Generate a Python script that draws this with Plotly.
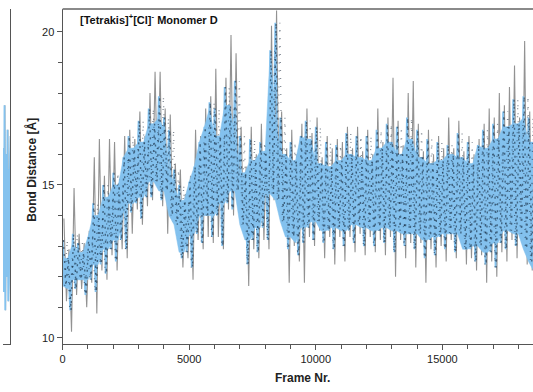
import plotly.graph_objects as go

# Frame bins (every 200 frames) and values (Bond Distance, Å)
frames = list(range(0, 18601, 200))

blue_hi = [13.2, 12.6, 13.4, 13.1, 12.8, 13.3, 14.4, 14.0, 15.0, 14.6,
           15.4, 15.0, 15.9, 16.6, 16.2, 17.1, 16.4, 17.5, 17.0, 17.9,
           17.2, 16.8, 15.5, 15.0, 14.5, 15.1, 15.6, 16.4, 16.9, 17.7,
           17.5, 16.6, 18.2, 17.6, 18.4, 16.6, 15.4, 16.5, 15.8, 16.4,
           16.1, 19.4, 20.3, 17.2, 16.0, 16.4, 15.8, 16.6, 17.1, 16.5,
           16.9, 15.7, 16.4, 15.6, 16.3, 15.8, 16.7, 16.0, 16.6, 15.9,
           16.6, 15.8, 16.8, 16.2, 17.0, 16.4, 16.9, 16.0, 17.2, 16.5,
           16.8, 15.9, 16.5, 15.7, 16.4, 15.8, 16.3, 16.0, 16.7, 15.9,
           16.4, 15.7, 16.3, 16.8, 16.2, 17.0, 16.5, 17.4, 16.9, 17.8,
           17.0, 17.9, 17.2, 16.4]

blue_lo = [11.7, 10.9, 11.6, 11.9, 11.4, 11.9, 11.5, 12.4, 12.1, 12.9,
           12.5, 13.2, 12.9, 14.1, 14.4, 13.9, 14.6, 14.6, 15.1, 14.5,
           14.8, 14.0, 13.7, 12.6, 12.8, 12.3, 13.4, 13.1, 14.0, 13.3,
           14.0, 13.0, 14.4, 14.2, 14.8, 13.7, 12.4, 13.2, 12.8, 13.6,
           13.2, 14.7, 14.5, 13.8, 12.9, 13.3, 12.7, 13.1, 13.6, 13.2,
           13.8, 13.1, 13.5, 12.9, 13.6, 13.0, 13.5, 13.1, 13.7, 13.0,
           13.6, 13.0, 13.5, 13.1, 13.6, 12.8, 13.5, 13.0, 13.4, 12.9,
           13.4, 12.6, 13.2, 12.7, 13.3, 12.9, 13.4, 12.8, 13.4, 12.9,
           12.9, 12.5, 13.0, 12.4, 12.8, 12.3, 13.1, 12.9, 13.5, 13.0,
           13.4, 12.9, 12.5, 12.2]

gray_hi = [13.9, 12.9, 14.9, 13.4, 13.1, 13.5, 15.9, 16.5, 15.3, 16.5,
           16.4, 15.2, 16.6, 16.8, 16.5, 17.4, 16.6, 18.0, 18.7, 18.7,
           17.5, 17.3, 15.7, 15.5, 14.7, 15.3, 16.8, 16.6, 17.5, 17.9,
           18.8, 16.8, 18.5, 19.9, 19.3, 16.9, 15.6, 16.9, 16.0, 17.0,
           16.3, 20.2, 20.7, 17.4, 16.2, 16.8, 16.0, 17.0, 17.5, 16.7,
           17.2, 15.9, 16.6, 16.2, 16.5, 16.4, 16.9, 16.2, 16.9, 16.1,
           16.8, 16.0, 17.5, 16.4, 17.2, 18.5, 17.1, 16.3, 18.0, 18.4,
           17.0, 16.1, 16.8, 16.0, 16.6, 16.2, 17.2, 16.2, 17.1, 16.1,
           16.6, 16.0, 16.5, 17.0, 17.5, 17.2, 18.0, 17.6, 18.2, 18.9,
           17.2, 19.7, 17.4, 16.6]

gray_lo = [11.2, 10.2, 11.4, 11.6, 11.0, 11.8, 10.8, 12.2, 11.9, 12.7,
           12.2, 12.9, 12.6, 13.4, 14.2, 13.7, 14.3, 14.5, 14.9, 14.3,
           13.4, 13.8, 13.5, 12.3, 12.6, 11.9, 13.2, 12.9, 13.3, 13.1,
           13.3, 12.9, 14.2, 14.0, 14.5, 13.5, 11.7, 12.9, 12.6, 13.2,
           12.9, 14.5, 14.2, 13.5, 11.8, 13.0, 12.5, 11.8, 13.3, 13.0,
           13.5, 12.6, 13.3, 12.4, 13.3, 12.5, 13.3, 12.8, 13.4, 12.7,
           13.3, 12.8, 13.2, 12.7, 13.3, 12.0, 13.2, 12.6, 13.1, 12.3,
           13.1, 11.8, 12.9, 12.3, 13.0, 12.5, 13.2, 12.6, 13.1, 12.4,
           12.6, 12.2, 12.7, 11.8, 12.5, 12.0, 12.8, 12.5, 13.2, 12.6,
           13.1, 12.4, 12.2, 11.8]

# Neighbouring (cropped) panel on the far left
left_pos = [0.0, 0.2, 0.4, 0.6, 0.8, 1.0]
left_hi = [16.2, 17.6, 16.0, 16.8, 15.5, 16.6]
left_lo = [11.5, 10.9, 12.0, 11.2, 12.3, 11.0]

x_ticks = [0, 5000, 10000, 15000]
y_ticks = [10, 15, 20]

FONT = "Liberation Sans, Arial, sans-serif"
BLUE = "#84c2ee"
GRAY = "#929292"
AX = "#555555"


def zigzag(xs, his, los, offset, step, flip=False):
    zx, zy = [], []
    for f, h, l in zip(xs, his, los):
        zx += [f + offset, f + offset + step]
        zy += [l, h] if flip else [h, l]
    return zx, zy


def inner_band(xs, his, los):
    up = [min(a, b) for a, b in zip(his, his[1:] + his[-1:])]
    dn = [max(a, b) for a, b in zip(los, los[1:] + los[-1:])]
    return list(xs) + list(xs)[::-1], up + dn[::-1]


gx, gy = zigzag(frames, gray_hi, gray_lo, 50, 100)
bx, by = zigzag(frames, blue_hi, blue_lo, 0, 100)
px, py = inner_band(frames, blue_hi, blue_lo)
k1x, k1y = zigzag(frames, blue_hi, blue_lo, 30, 100)
k2x, k2y = zigzag(frames, blue_hi, blue_lo, 80, 100, flip=True)
lgx, lgy = zigzag(left_pos, left_hi, left_lo, 0.05, 0.1)
lbx, lby = zigzag(left_pos, left_hi, left_lo, 0.0, 0.1)
lpx, lpy = inner_band(left_pos, left_hi, left_lo)

fig = go.Figure()
fig.add_trace(go.Scatter(x=gx, y=gy, mode="lines", line=dict(color=GRAY, width=1.1),
                         xaxis="x", yaxis="y", hoverinfo="skip"))
fig.add_trace(go.Scatter(x=px, y=py, mode="lines", fill="toself", fillcolor=BLUE,
                         line=dict(color=BLUE, width=0.5), xaxis="x", yaxis="y", hoverinfo="skip"))
fig.add_trace(go.Scatter(x=bx, y=by, mode="lines", line=dict(color=BLUE, width=1.8),
                         xaxis="x", yaxis="y", hoverinfo="skip"))
fig.add_trace(go.Scatter(x=k1x, y=k1y, mode="lines",
                         line=dict(color="#0b1b2e", width=1.4, dash="2px,5px"),
                         opacity=0.55, xaxis="x", yaxis="y", hoverinfo="skip"))
fig.add_trace(go.Scatter(x=k2x, y=k2y, mode="lines",
                         line=dict(color="#0b1b2e", width=1.3, dash="1px,7px"),
                         opacity=0.5, xaxis="x", yaxis="y", hoverinfo="skip"))
fig.add_trace(go.Scatter(x=lgx, y=lgy, mode="lines", line=dict(color=GRAY, width=1.1),
                         xaxis="x2", yaxis="y2", hoverinfo="skip"))
fig.add_trace(go.Scatter(x=lpx, y=lpy, mode="lines", fill="toself", fillcolor=BLUE,
                         line=dict(color=BLUE, width=0.5), xaxis="x2", yaxis="y2", hoverinfo="skip"))
fig.add_trace(go.Scatter(x=lbx, y=lby, mode="lines", line=dict(color=BLUE, width=1.8),
                         xaxis="x2", yaxis="y2", hoverinfo="skip"))

W, H = 533, 392
fig.update_layout(
    width=W, height=H,
    margin=dict(l=0, r=0, t=9, b=48),
    paper_bgcolor="white", plot_bgcolor="white",
    showlegend=False,
    font=dict(family=FONT, size=11, color="#222"),
    xaxis=dict(domain=[60 / W, 1], range=[0, 18580], tickvals=x_ticks,
               ticktext=[str(v) for v in x_ticks],
               ticks="outside", ticklen=5, tickwidth=1, tickcolor=AX,
               showline=True, linecolor=AX, linewidth=1.2,
               showgrid=False, zeroline=False, anchor="y",
               minor=dict(dtick=1000, tick0=0, ticks="outside", ticklen=4, tickcolor=AX, showgrid=False),
               tickfont=dict(family=FONT, size=11, color="#222")),
    yaxis=dict(domain=[0, 1], range=[9.8, 20.75], tickvals=y_ticks,
               ticks="outside", ticklen=5, tickwidth=1, tickcolor=AX,
               showline=True, linecolor=AX, linewidth=1.2,
               showgrid=False, zeroline=False, anchor="x",
               minor=dict(dtick=1, tick0=0, ticks="outside", ticklen=4, tickcolor=AX, showgrid=False),
               tickfont=dict(family=FONT, size=11, color="#222")),
    xaxis2=dict(domain=[0, 7.5 / W], range=[0, 1], showline=True, linecolor=AX, linewidth=1.2,
                showticklabels=False, ticks="", showgrid=False, zeroline=False, anchor="y2"),
    yaxis2=dict(domain=[0, 1], range=[9.8, 20.75], side="right", showline=True, linecolor=AX,
                linewidth=1.2, showticklabels=False, ticks="", showgrid=False, zeroline=False,
                anchor="x2"),
    shapes=[dict(type="line", xref="paper", yref="paper", x0=60 / W, x1=1, y0=1, y1=1,
                 line=dict(color="#8a8a8a", width=2))],
    annotations=[
        dict(text="<b>[Tetrakis]<sup>+</sup>[Cl]<sup>-</sup> Monomer D</b>", xref="paper", yref="paper",
             x=75 / W, y=(344 - 19) / 335, xanchor="left", yanchor="middle", showarrow=False,
             font=dict(family=FONT, size=11, color="#111")),
        dict(text="<b>Frame Nr.</b>", xref="paper", yref="paper",
             x=301 / W, y=(344 - 378) / 335, xanchor="center", yanchor="middle", showarrow=False,
             font=dict(family=FONT, size=12, color="#222")),
        dict(text="<b>Bond Distance [Å]</b>", xref="paper", yref="paper", textangle=-90,
             x=28 / W, y=(344 - 170) / 335, xanchor="center", yanchor="middle", showarrow=False,
             font=dict(family=FONT, size=12, color="#222")),
    ],
)

fig.write_html("out.html")
